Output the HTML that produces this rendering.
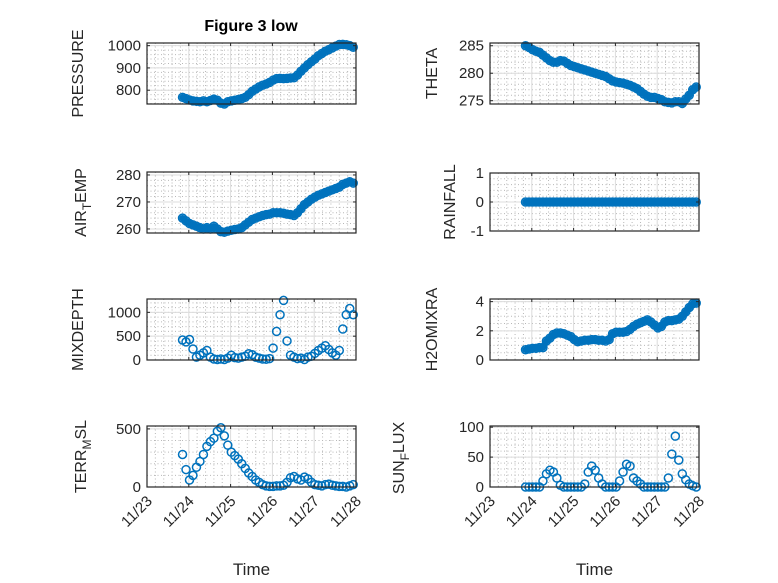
<!DOCTYPE html>
<html><head><meta charset="utf-8"><style>
html,body{margin:0;padding:0;background:#fff}
svg{display:block;font-family:"Liberation Sans",Arial,sans-serif}
</style></head><body>
<svg id="fig" width="778" height="583" viewBox="0 0 778 583">
<rect width="778" height="583" fill="#fff"/>
<text x="251" y="31" font-size="16" font-weight="bold" text-anchor="middle" fill="#000">Figure 3 low</text>
</svg>
<script>
// hours after 11/23 20:24 (day 23.85)
const hours = [0,2,4,6,8,10,12,14,16,18,20,22,24,26,28,30,32,34,36,38,40,42,44,46,48,50,52,54,56,58,60,62,64,66,68,70,72,74,76,78,80,82,84,86,88,90,92,94,96,98];
const startDay = 23.85;
const xTickLabels = ["11/23","11/24","11/25","11/26","11/27","11/28"];
const pressure = [768,762,756,752,750,748,752,748,754,760,755,742,738,748,752,755,758,762,768,780,795,805,815,822,828,835,845,852,853,852,853,855,856,868,885,900,915,928,940,955,965,975,982,990,998,1005,1006,1004,1000,993];
const theta = [285,284.7,284.3,284,283.8,283.3,282.8,282.3,282,282,282.3,282.2,281.8,281.4,281.2,281,280.8,280.6,280.4,280.2,280,279.8,279.6,279.4,279,278.6,278.4,278.3,278.2,278,277.8,277.5,277.2,276.7,276.2,275.8,275.6,275.6,275.4,275.2,274.8,274.7,274.6,274.8,274.8,274.5,275.3,276,277,277.5];
const airTemp = [264,263,262,261.5,261,260.5,260,260.5,260,261,260,259,258.8,259.2,259.5,259.8,260,260.5,261.5,262.5,263.5,264,264.5,265,265.3,265.5,266,266,266,265.8,265.5,265.3,265,266,267.5,269,270,271,271.8,272.5,273,273.5,274,274.5,275,275.5,276.5,277,277.5,277];
const rainfall = [0,0,0,0,0,0,0,0,0,0,0,0,0,0,0,0,0,0,0,0,0,0,0,0,0,0,0,0,0,0,0,0,0,0,0,0,0,0,0,0,0,0,0,0,0,0,0,0,0,0];
const mixDepth = [420,380,430,230,60,100,150,200,60,20,10,20,10,40,100,50,40,60,80,130,110,60,40,20,15,30,250,600,950,1250,400,100,60,30,40,10,60,80,140,200,250,300,220,150,100,200,650,950,1080,950];
const h2oMix = [0.7,0.75,0.8,0.8,0.85,0.85,1.3,1.5,1.75,1.85,1.85,1.8,1.7,1.6,1.4,1.25,1.3,1.35,1.35,1.4,1.4,1.35,1.35,1.3,1.4,1.8,1.9,1.9,1.9,1.95,2.1,2.3,2.45,2.55,2.65,2.75,2.6,2.4,2.2,2.3,2.6,2.7,2.7,2.75,2.8,3.0,3.3,3.6,3.85,3.9];
const terrMsl = [280,150,60,100,170,220,280,350,390,420,480,510,440,360,300,270,240,200,160,120,90,60,40,20,10,5,5,10,10,15,40,80,90,70,60,85,70,40,20,15,10,20,25,15,10,5,5,0,10,20];
const sunFlux = [0,0,0,0,0,10,22,28,25,15,3,0,0,0,0,0,0,5,25,35,28,15,5,0,0,0,0,10,25,38,35,15,10,5,0,0,0,0,0,0,0,15,55,85,45,22,12,5,2,0];
const pressureTicks = [800,900,1000];
const thetaTicks = [275,280,285];
const airTicks = [260,270,280];
const rainTicks = [-1,0,1];
const mixTicks = [0,500,1000];
const h2oTicks = [0,2,4];
const terrTicks = [0,500];
const sunTicks = [0,50,100];

const NS="http://www.w3.org/2000/svg";
const svg=document.getElementById('fig');
function mk(tag,attrs,parent){const e=document.createElementNS(NS,tag);for(const k in attrs)e.setAttribute(k,attrs[k]);(parent||svg).appendChild(e);return e;}

const panels=[
 {id:'pressure',data:pressure,ticks:pressureTicks,ymin:738,ymax:1012,minor:20,x0:147,y0:43,label:['PRESSURE'],lx:77,dense:true},
 {id:'theta',data:theta,ticks:thetaTicks,ymin:274.4,ymax:285.5,minor:1,x0:490,y0:43,label:['THETA'],lx:431,dense:true},
 {id:'air-temp',data:airTemp,ticks:airTicks,ymin:258.5,ymax:281.1,minor:2,x0:147,y0:172,label:['AIR','T','EMP'],lx:80,dense:true},
 {id:'rainfall',data:rainfall,ticks:rainTicks,ymin:-1,ymax:1,minor:0.2,x0:490,y0:173,label:['RAINFALL'],lx:449,h:58,dense:true},
 {id:'mixdepth',data:mixDepth,ticks:mixTicks,ymin:0,ymax:1280,minor:100,x0:147,y0:299,label:['MIXDEPTH'],lx:77},
 {id:'h2omixra',data:h2oMix,ticks:h2oTicks,ymin:0,ymax:4.18,minor:0.5,x0:490,y0:299,label:['H2OMIXRA'],lx:431,dense:true},
 {id:'terr-msl',data:terrMsl,ticks:terrTicks,ymin:0,ymax:525,minor:100,x0:147,y0:426,label:['TERR','M','SL'],lx:80,bottom:true},
 {id:'sun-flux',data:sunFlux,ticks:sunTicks,ymin:0,ymax:102,minor:10,x0:490,y0:426,label:['SUN','F','LUX'],lx:398,bottom:true}
];
const W=209;
panels.forEach(p=>{
 const H=p.h||61;
 const g=mk('g',{});
 
 
 const xs=d=>p.x0+(d-23)/5*W;
 const ys=v=>p.y0+H-(v-p.ymin)/(p.ymax-p.ymin)*H;
 mk('rect',{x:p.x0,y:p.y0,width:W,height:H,fill:'#fff'},g);
 for(let d=23;d<=28.001;d+=0.2){const x=xs(d);if(Math.abs(d-Math.round(d))<0.01)continue;
  mk('line',{x1:x,x2:x,y1:p.y0,y2:p.y0+H,stroke:'#b8b8b8','stroke-width':1,'stroke-dasharray':'1 2.5'},g);}
 const start=Math.ceil(p.ymin/p.minor)*p.minor;
 for(let v=start;v<=p.ymax+1e-9;v+=p.minor){const y=ys(v);
  mk('line',{x1:p.x0,x2:p.x0+W,y1:y,y2:y,stroke:'#b8b8b8','stroke-width':1,'stroke-dasharray':'1 2.5'},g);}
 for(let d=24;d<28;d++){const x=xs(d);mk('line',{x1:x,x2:x,y1:p.y0,y2:p.y0+H,stroke:'#dcdcdc','stroke-width':1},g);}
 p.ticks.forEach(v=>{const y=ys(v);mk('line',{x1:p.x0,x2:p.x0+W,y1:y,y2:y,stroke:'#dcdcdc','stroke-width':1},g);});
 const sg=mk('g',{},g);
 
 
 if(p.dense){
  const pts=p.data.map((v,i)=>xs(startDay+hours[i]/24).toFixed(1)+','+ys(v).toFixed(1)).join(' ');
  const pl=mk('polyline',{points:pts,fill:'none',stroke:'#0072BD','stroke-width':6.5,'stroke-linejoin':'round','stroke-linecap':'round'},sg);
  
  
 }
 p.data.forEach((v,i)=>{const c=mk('circle',{cx:xs(startDay+hours[i]/24),cy:ys(v),r:4,fill:'none',stroke:'#0072BD','stroke-width':1.5},sg);
  
  });
 mk('rect',{x:p.x0,y:p.y0,width:W,height:H,fill:'none',stroke:'#262626','stroke-width':1.2},g);
 for(let d=23;d<=28;d++){const x=xs(d);
  mk('line',{x1:x,x2:x,y1:p.y0+H,y2:p.y0+H-3,stroke:'#262626'},g);
  mk('line',{x1:x,x2:x,y1:p.y0,y2:p.y0+3,stroke:'#262626'},g);}
 p.ticks.forEach(v=>{const y=ys(v);
  mk('line',{x1:p.x0,x2:p.x0+3,y1:y,y2:y,stroke:'#262626'},g);
  mk('line',{x1:p.x0+W,x2:p.x0+W-3,y1:y,y2:y,stroke:'#262626'},g);
  const t=mk('text',{x:p.x0-6,y:y+5,'font-size':15,'text-anchor':'end',fill:'#262626'},g);
  t.textContent=String(v);
  
  });
 const cy=p.y0+H/2;
 const yl=mk('text',{x:0,y:0,'font-size':16,'text-anchor':'middle',fill:'#262626',transform:`translate(${p.lx+6},${p.id==='sun-flux'?458:cy}) rotate(-90)`},g);
 
 
 if(p.label.length===1){yl.textContent=p.label[0];}
 else{const a=mk('tspan',{},yl);a.textContent=p.label[0];
  const b=mk('tspan',{dy:5,'font-size':12},yl);b.textContent=p.label[1];
  const c=mk('tspan',{dy:-5},yl);c.textContent=p.label[2];}
 if(p.bottom){
  xTickLabels.forEach((lab,k)=>{const x=xs(23+k);
   const t=mk('text',{x:0,y:0,'font-size':15,'text-anchor':'end',fill:'#262626',transform:`translate(${x+6},${p.y0+H+15}) rotate(-45)`},g);
   t.textContent=lab;
   
   });
  const xl=mk('text',{x:p.x0+W/2,y:575,'font-size':17,'text-anchor':'middle',fill:'#262626'},g);
  xl.textContent='Time';
  
  
 }
});
</script>
</body></html>
